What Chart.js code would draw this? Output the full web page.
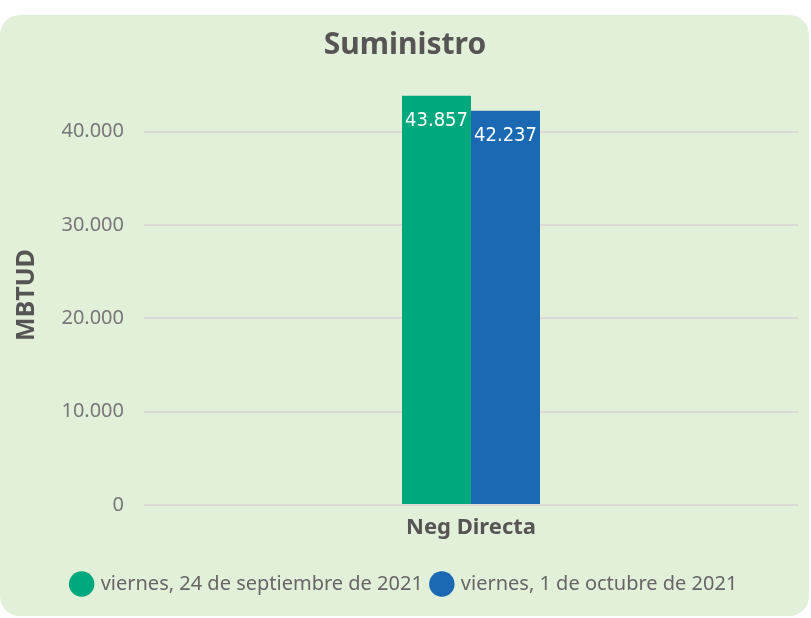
<!DOCTYPE html>
<html>
<head>
<meta charset="utf-8">
<script src="https://cdn.jsdelivr.net/npm/chart.js@4"></script>
<style>
  html, body { margin: 0; padding: 0; background: #ffffff; }
  #wrap { width: 811px; height: 618px; position: relative; }
</style>
</head>
<body>
<div id="wrap"><canvas id="chart_suministro"></canvas></div>
<script>
var categories = ['Neg Directa'];
var seriesNames = ['viernes, 24 de septiembre de 2021', 'viernes, 1 de octubre de 2021'];
var valuesSep24 = [43857];
var valuesOct01 = [42237];
var yTicks = [0, 10000, 20000, 30000, 40000];
var seriesColors = ['#00a97d', '#1b69b3'];

function fmtNum(v) {
    return String(Math.round(v)).replace(/\B(?=(\d{3})+(?!\d))/g, '.');
}

var chart_suministro = new Chart(document.getElementById('chart_suministro'), {
    type: 'bar',
    data: {
        labels: categories,
        datasets: [
            { label: seriesNames[0], data: valuesSep24, backgroundColor: seriesColors[0] },
            { label: seriesNames[1], data: valuesOct01, backgroundColor: seriesColors[1] }
        ]
    },
    options: {
        animation: false,
        responsive: true,
        maintainAspectRatio: false,
        categoryPercentage: 0.211,
        barPercentage: 1,
        layout: { padding: { left: 12, right: 13, top: 27, bottom: 14 } },
        plugins: {
            title: {
                display: true,
                text: 'Suministro',
                color: '#555555',
                font: { family: 'Noto Sans', size: 30, weight: 'bold' },
                padding: { top: 0, bottom: 22 }
            },
            legend: {
                position: 'bottom',
                labels: {
                    usePointStyle: true,
                    pointStyle: 'circle',
                    boxWidth: 18,
                    boxHeight: 18,
                    color: '#666666',
                    padding: 10,
                    font: { family: 'Noto Sans', size: 20 }
                }
            },
            tooltip: { enabled: false }
        },
        scales: {
            x: {
                grid: { display: false, drawTicks: false },
                border: { display: false },
                ticks: {
                    color: '#555555',
                    padding: 10,
                    font: { family: 'Noto Sans', size: 22, weight: 'bold' }
                },
                afterFit: function(scale) { scale.height = 59; }
            },
            y: {
                min: 0,
                max: 45000,
                grid: { color: '#d9dad6', lineWidth: 2, drawTicks: false },
                border: { display: false },
                afterBuildTicks: function(scale) {
                    scale.ticks = yTicks.map(function(v) { return { value: v }; });
                },
                afterFit: function(scale) { scale.width = 132; },
                ticks: {
                    padding: 20,
                    color: '#777777',
                    font: { family: 'Noto Sans', size: 20 },
                    callback: function(value) { return fmtNum(value); }
                },
                title: {
                    display: true,
                    text: 'MBTUD',
                    color: '#555555',
                    font: { family: 'Noto Sans', size: 25, weight: 'bold' },
                    padding: { top: 0, bottom: 8 }
                }
            }
        }
    },
    plugins: [{
        id: 'cardBackground',
        beforeDraw: (chart) => {
            const ctx = chart.ctx;
            ctx.save();
            ctx.fillStyle = '#e2efd9';
            ctx.beginPath();
            ctx.roundRect(0, 15, 809, 601, 20);
            ctx.fill();
            ctx.restore();
        }
    }, {
        id: 'barValueLabels',
        afterDatasetsDraw: (chart) => {
            const ctx = chart.ctx;
            ctx.save();
            ctx.fillStyle = '#ffffff';
            ctx.font = '20px "DejaVu Sans Condensed"';
            ctx.textAlign = 'center';
            ctx.textBaseline = 'top';
            chart.data.datasets.forEach((ds, i) => {
                chart.getDatasetMeta(i).data.forEach((bar, j) => {
                    ctx.fillText(fmtNum(ds.data[j]), bar.x, bar.y + 15);
                });
            });
            ctx.restore();
        }
    }]
});
</script>
</body>
</html>
